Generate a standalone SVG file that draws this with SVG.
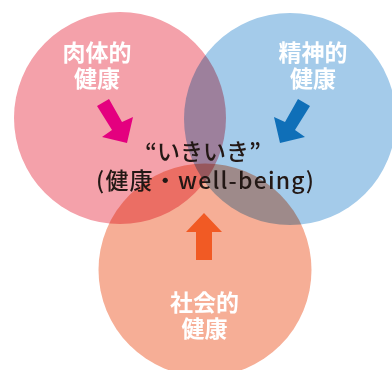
<svg xmlns="http://www.w3.org/2000/svg" width="392" height="370" viewBox="0 0 392 370">
<style>
.c{mix-blend-mode:multiply}
.lbl{font-family:"Noto Sans CJK JP","Noto Sans",sans-serif;font-weight:bold;font-size:23px;fill:#fff;text-anchor:middle}
.ctr{font-family:"Noto Sans CJK JP","Noto Sans",sans-serif;font-weight:500;font-size:23px;fill:#231815;text-anchor:middle}
</style>
<rect width="392" height="370" fill="#fff"/>
<g id="circles">
<circle id="physical" class="c" cx="120" cy="118" r="106" fill="#F4A1AA"/>
<circle id="mental" class="c" cx="290" cy="119" r="106" fill="#A4CBEA"/>
<circle id="social" class="c" cx="205" cy="270" r="106.5" fill="#F6AE96"/>
</g>
<g id="connectors">
<polygon points="97,106 109,99 122,122 133,117 127,143 102,137 112,130" fill="#E4007F"/>
<polygon points="310,106 298,99 285,122 274,117 280,143 305,137 295,130" fill="#0F6FB8"/>
<polygon points="196,260 212,260 212,232 222,232 204,213 186,232 196,232" fill="#F15A24"/>
</g>
<g id="node-physical"><text class="lbl"><tspan x="97" y="61">肉体的</tspan><tspan x="97" y="87">健康</tspan></text></g>
<g id="node-mental"><text class="lbl"><tspan x="313" y="61">精神的</tspan><tspan x="313" y="87">健康</tspan></text></g>
<g id="node-social"><text class="lbl"><tspan x="204.5" y="311">社会的</tspan><tspan x="204.5" y="337">健康</tspan></text></g>
<g id="node-center"><text class="ctr"><tspan x="203" y="160">“いきいき”</tspan><tspan x="205" y="189" textLength="218">(健康・well-being)</tspan></text></g>
</svg>
